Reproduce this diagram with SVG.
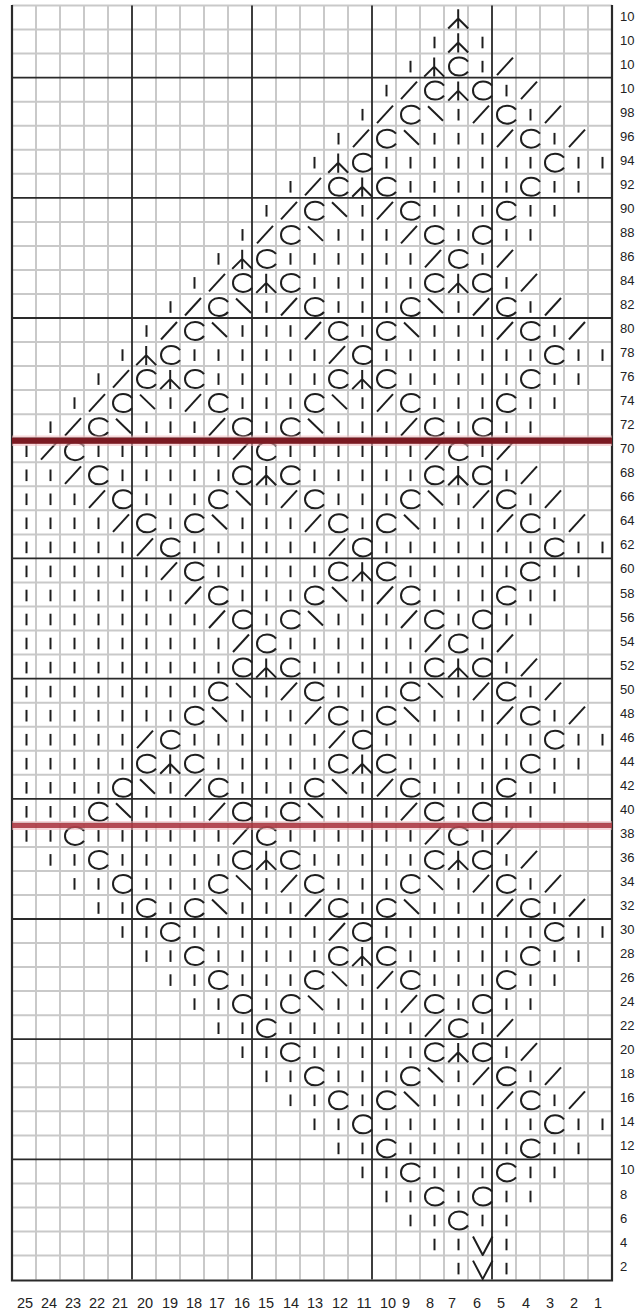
<svg xmlns="http://www.w3.org/2000/svg" width="640" height="1316" viewBox="0 0 640 1316">
<style>
.g{stroke:#c9c9c9;stroke-width:2;fill:none}
.t{stroke:#2a2a2a;stroke-width:1.8;fill:none}
.m{stroke:#1e1e1e;stroke-width:2;fill:none;stroke-linejoin:round}
.n{font-family:"Liberation Sans",Arial,sans-serif;font-size:13px;fill:#222}
.b{font-family:"Liberation Sans",Arial,sans-serif;font-size:14.5px;fill:#222;text-anchor:middle}
</style>
<defs>
<path id="k" class="m" d="M14.5 7.2V18.8"/>
<path id="s" class="m" d="M5 21.5L21 4"/>
<path id="b" class="m" d="M8 4.5L23 19"/>
<path id="c" class="m" d="M24 8C21.5 5 19 4 15 4C9 4 5 8 5 13C5 18 9 22 15 22C19 22 21.5 21 24 18"/>
<path id="a" class="m" d="M14.2 3.8V23M4.2 23L14.2 13L24.2 23"/>
<path id="v" class="m" d="M5 5L14.7 23.5L24.5 5"/>
</defs>
<rect width="640" height="1316" fill="#fff"/>
<g id="grid">
<path class="g" d="M36 5.5V1279.6M60 5.5V1279.6M84 5.5V1279.6M108 5.5V1279.6M156 5.5V1279.6M180 5.5V1279.6M204 5.5V1279.6M228 5.5V1279.6M276 5.5V1279.6M300 5.5V1279.6M324 5.5V1279.6M348 5.5V1279.6M396 5.5V1279.6M420 5.5V1279.6M444 5.5V1279.6M468 5.5V1279.6M516 5.5V1279.6M540 5.5V1279.6M564 5.5V1279.6M588 5.5V1279.6"/>
<path class="g" d="M12 5.5H612M12 29.5H612M12 53.6H612M12 101.7H612M12 125.7H612M12 149.7H612M12 173.8H612M12 221.9H612M12 245.9H612M12 269.9H612M12 294H612M12 342.1H612M12 366.1H612M12 390.1H612M12 414.2H612M12 462.3H612M12 486.3H612M12 510.3H612M12 534.4H612M12 582.5H612M12 606.5H612M12 630.5H612M12 654.6H612M12 702.7H612M12 726.7H612M12 750.7H612M12 774.8H612M12 822.9H612M12 846.9H612M12 870.9H612M12 895H612M12 943.1H612M12 967.1H612M12 991.1H612M12 1015.2H612M12 1063.3H612M12 1087.3H612M12 1111.3H612M12 1135.4H612M12 1183.5H612M12 1207.5H612M12 1231.5H612M12 1255.6H612"/>
<path class="t" d="M12 77.6H612M12 197.8H612M12 318H612M12 438.2H612M12 558.4H612M12 678.6H612M12 798.8H612M12 919H612M12 1039.2H612M12 1159.4H612"/>
<path class="t" d="M132 5.5V1279.6M252 5.5V1279.6M372 5.5V1279.6M492 5.5V1279.6"/>
<path class="t" style="stroke-width:2.2" d="M12 5V1280.5H612V5"/>
</g>
<g id="stitches">
<g transform="translate(0,5.5)"><use href="#a" x="444"/></g>
<g transform="translate(0,29.5)"><use href="#k" x="420"/><use href="#a" x="444"/><use href="#k" x="468"/></g>
<g transform="translate(0,53.6)"><use href="#k" x="396"/><use href="#a" x="420"/><use href="#c" x="444"/><use href="#k" x="468"/><use href="#s" x="492"/></g>
<g transform="translate(0,77.6)"><use href="#k" x="372"/><use href="#s" x="396"/><use href="#c" x="420"/><use href="#a" x="444"/><use href="#c" x="468"/><use href="#k" x="492"/><use href="#s" x="516"/></g>
<g transform="translate(0,101.7)"><use href="#k" x="348"/><use href="#s" x="372"/><use href="#c" x="396"/><use href="#b" x="420"/><use href="#k" x="444"/><use href="#s" x="468"/><use href="#c" x="492"/><use href="#k" x="516"/><use href="#s" x="540"/></g>
<g transform="translate(0,125.7)"><use href="#k" x="324"/><use href="#s" x="348"/><use href="#c" x="372"/><use href="#b" x="396"/><use href="#k" x="420"/><use href="#k" x="444"/><use href="#k" x="468"/><use href="#s" x="492"/><use href="#c" x="516"/><use href="#k" x="540"/><use href="#s" x="564"/></g>
<g transform="translate(0,149.7)"><use href="#k" x="300"/><use href="#a" x="324"/><use href="#c" x="348"/><use href="#k" x="372"/><use href="#k" x="396"/><use href="#k" x="420"/><use href="#k" x="444"/><use href="#k" x="468"/><use href="#k" x="492"/><use href="#k" x="516"/><use href="#c" x="540"/><use href="#k" x="564"/><use href="#k" x="588"/></g>
<g transform="translate(0,173.8)"><use href="#k" x="276"/><use href="#s" x="300"/><use href="#c" x="324"/><use href="#a" x="348"/><use href="#c" x="372"/><use href="#k" x="396"/><use href="#k" x="420"/><use href="#k" x="444"/><use href="#k" x="468"/><use href="#k" x="492"/><use href="#c" x="516"/><use href="#k" x="540"/><use href="#k" x="564"/></g>
<g transform="translate(0,197.8)"><use href="#k" x="252"/><use href="#s" x="276"/><use href="#c" x="300"/><use href="#b" x="324"/><use href="#k" x="348"/><use href="#s" x="372"/><use href="#c" x="396"/><use href="#k" x="420"/><use href="#k" x="444"/><use href="#k" x="468"/><use href="#c" x="492"/><use href="#k" x="516"/><use href="#k" x="540"/></g>
<g transform="translate(0,221.9)"><use href="#k" x="228"/><use href="#s" x="252"/><use href="#c" x="276"/><use href="#b" x="300"/><use href="#k" x="324"/><use href="#k" x="348"/><use href="#k" x="372"/><use href="#s" x="396"/><use href="#c" x="420"/><use href="#k" x="444"/><use href="#c" x="468"/><use href="#k" x="492"/><use href="#k" x="516"/></g>
<g transform="translate(0,245.9)"><use href="#k" x="204"/><use href="#a" x="228"/><use href="#c" x="252"/><use href="#k" x="276"/><use href="#k" x="300"/><use href="#k" x="324"/><use href="#k" x="348"/><use href="#k" x="372"/><use href="#k" x="396"/><use href="#s" x="420"/><use href="#c" x="444"/><use href="#k" x="468"/><use href="#s" x="492"/></g>
<g transform="translate(0,269.9)"><use href="#k" x="180"/><use href="#s" x="204"/><use href="#c" x="228"/><use href="#a" x="252"/><use href="#c" x="276"/><use href="#k" x="300"/><use href="#k" x="324"/><use href="#k" x="348"/><use href="#k" x="372"/><use href="#k" x="396"/><use href="#c" x="420"/><use href="#a" x="444"/><use href="#c" x="468"/><use href="#k" x="492"/><use href="#s" x="516"/></g>
<g transform="translate(0,294)"><use href="#k" x="156"/><use href="#s" x="180"/><use href="#c" x="204"/><use href="#b" x="228"/><use href="#k" x="252"/><use href="#s" x="276"/><use href="#c" x="300"/><use href="#k" x="324"/><use href="#k" x="348"/><use href="#k" x="372"/><use href="#c" x="396"/><use href="#b" x="420"/><use href="#k" x="444"/><use href="#s" x="468"/><use href="#c" x="492"/><use href="#k" x="516"/><use href="#s" x="540"/></g>
<g transform="translate(0,318)"><use href="#k" x="132"/><use href="#s" x="156"/><use href="#c" x="180"/><use href="#b" x="204"/><use href="#k" x="228"/><use href="#k" x="252"/><use href="#k" x="276"/><use href="#s" x="300"/><use href="#c" x="324"/><use href="#k" x="348"/><use href="#c" x="372"/><use href="#b" x="396"/><use href="#k" x="420"/><use href="#k" x="444"/><use href="#k" x="468"/><use href="#s" x="492"/><use href="#c" x="516"/><use href="#k" x="540"/><use href="#s" x="564"/></g>
<g transform="translate(0,342.1)"><use href="#k" x="108"/><use href="#a" x="132"/><use href="#c" x="156"/><use href="#k" x="180"/><use href="#k" x="204"/><use href="#k" x="228"/><use href="#k" x="252"/><use href="#k" x="276"/><use href="#k" x="300"/><use href="#s" x="324"/><use href="#c" x="348"/><use href="#k" x="372"/><use href="#k" x="396"/><use href="#k" x="420"/><use href="#k" x="444"/><use href="#k" x="468"/><use href="#k" x="492"/><use href="#k" x="516"/><use href="#c" x="540"/><use href="#k" x="564"/><use href="#k" x="588"/></g>
<g transform="translate(0,366.1)"><use href="#k" x="84"/><use href="#s" x="108"/><use href="#c" x="132"/><use href="#a" x="156"/><use href="#c" x="180"/><use href="#k" x="204"/><use href="#k" x="228"/><use href="#k" x="252"/><use href="#k" x="276"/><use href="#k" x="300"/><use href="#c" x="324"/><use href="#a" x="348"/><use href="#c" x="372"/><use href="#k" x="396"/><use href="#k" x="420"/><use href="#k" x="444"/><use href="#k" x="468"/><use href="#k" x="492"/><use href="#c" x="516"/><use href="#k" x="540"/><use href="#k" x="564"/></g>
<g transform="translate(0,390.1)"><use href="#k" x="60"/><use href="#s" x="84"/><use href="#c" x="108"/><use href="#b" x="132"/><use href="#k" x="156"/><use href="#s" x="180"/><use href="#c" x="204"/><use href="#k" x="228"/><use href="#k" x="252"/><use href="#k" x="276"/><use href="#c" x="300"/><use href="#b" x="324"/><use href="#k" x="348"/><use href="#s" x="372"/><use href="#c" x="396"/><use href="#k" x="420"/><use href="#k" x="444"/><use href="#k" x="468"/><use href="#c" x="492"/><use href="#k" x="516"/><use href="#k" x="540"/></g>
<g transform="translate(0,414.2)"><use href="#k" x="36"/><use href="#s" x="60"/><use href="#c" x="84"/><use href="#b" x="108"/><use href="#k" x="132"/><use href="#k" x="156"/><use href="#k" x="180"/><use href="#s" x="204"/><use href="#c" x="228"/><use href="#k" x="252"/><use href="#c" x="276"/><use href="#b" x="300"/><use href="#k" x="324"/><use href="#k" x="348"/><use href="#k" x="372"/><use href="#s" x="396"/><use href="#c" x="420"/><use href="#k" x="444"/><use href="#c" x="468"/><use href="#k" x="492"/><use href="#k" x="516"/></g>
<g transform="translate(0,438.2)"><use href="#k" x="12"/><use href="#s" x="36"/><use href="#c" x="60"/><use href="#k" x="84"/><use href="#k" x="108"/><use href="#k" x="132"/><use href="#k" x="156"/><use href="#k" x="180"/><use href="#k" x="204"/><use href="#s" x="228"/><use href="#c" x="252"/><use href="#k" x="276"/><use href="#k" x="300"/><use href="#k" x="324"/><use href="#k" x="348"/><use href="#k" x="372"/><use href="#k" x="396"/><use href="#s" x="420"/><use href="#c" x="444"/><use href="#k" x="468"/><use href="#s" x="492"/></g>
<g transform="translate(0,462.3)"><use href="#k" x="12"/><use href="#k" x="36"/><use href="#s" x="60"/><use href="#c" x="84"/><use href="#k" x="108"/><use href="#k" x="132"/><use href="#k" x="156"/><use href="#k" x="180"/><use href="#k" x="204"/><use href="#c" x="228"/><use href="#a" x="252"/><use href="#c" x="276"/><use href="#k" x="300"/><use href="#k" x="324"/><use href="#k" x="348"/><use href="#k" x="372"/><use href="#k" x="396"/><use href="#c" x="420"/><use href="#a" x="444"/><use href="#c" x="468"/><use href="#k" x="492"/><use href="#s" x="516"/></g>
<g transform="translate(0,486.3)"><use href="#k" x="12"/><use href="#k" x="36"/><use href="#k" x="60"/><use href="#s" x="84"/><use href="#c" x="108"/><use href="#k" x="132"/><use href="#k" x="156"/><use href="#k" x="180"/><use href="#c" x="204"/><use href="#b" x="228"/><use href="#k" x="252"/><use href="#s" x="276"/><use href="#c" x="300"/><use href="#k" x="324"/><use href="#k" x="348"/><use href="#k" x="372"/><use href="#c" x="396"/><use href="#b" x="420"/><use href="#k" x="444"/><use href="#s" x="468"/><use href="#c" x="492"/><use href="#k" x="516"/><use href="#s" x="540"/></g>
<g transform="translate(0,510.3)"><use href="#k" x="12"/><use href="#k" x="36"/><use href="#k" x="60"/><use href="#k" x="84"/><use href="#s" x="108"/><use href="#c" x="132"/><use href="#k" x="156"/><use href="#c" x="180"/><use href="#b" x="204"/><use href="#k" x="228"/><use href="#k" x="252"/><use href="#k" x="276"/><use href="#s" x="300"/><use href="#c" x="324"/><use href="#k" x="348"/><use href="#c" x="372"/><use href="#b" x="396"/><use href="#k" x="420"/><use href="#k" x="444"/><use href="#k" x="468"/><use href="#s" x="492"/><use href="#c" x="516"/><use href="#k" x="540"/><use href="#s" x="564"/></g>
<g transform="translate(0,534.4)"><use href="#k" x="12"/><use href="#k" x="36"/><use href="#k" x="60"/><use href="#k" x="84"/><use href="#k" x="108"/><use href="#s" x="132"/><use href="#c" x="156"/><use href="#k" x="180"/><use href="#k" x="204"/><use href="#k" x="228"/><use href="#k" x="252"/><use href="#k" x="276"/><use href="#k" x="300"/><use href="#s" x="324"/><use href="#c" x="348"/><use href="#k" x="372"/><use href="#k" x="396"/><use href="#k" x="420"/><use href="#k" x="444"/><use href="#k" x="468"/><use href="#k" x="492"/><use href="#k" x="516"/><use href="#c" x="540"/><use href="#k" x="564"/><use href="#k" x="588"/></g>
<g transform="translate(0,558.4)"><use href="#k" x="12"/><use href="#k" x="36"/><use href="#k" x="60"/><use href="#k" x="84"/><use href="#k" x="108"/><use href="#k" x="132"/><use href="#s" x="156"/><use href="#c" x="180"/><use href="#k" x="204"/><use href="#k" x="228"/><use href="#k" x="252"/><use href="#k" x="276"/><use href="#k" x="300"/><use href="#c" x="324"/><use href="#a" x="348"/><use href="#c" x="372"/><use href="#k" x="396"/><use href="#k" x="420"/><use href="#k" x="444"/><use href="#k" x="468"/><use href="#k" x="492"/><use href="#c" x="516"/><use href="#k" x="540"/><use href="#k" x="564"/></g>
<g transform="translate(0,582.5)"><use href="#k" x="12"/><use href="#k" x="36"/><use href="#k" x="60"/><use href="#k" x="84"/><use href="#k" x="108"/><use href="#k" x="132"/><use href="#k" x="156"/><use href="#s" x="180"/><use href="#c" x="204"/><use href="#k" x="228"/><use href="#k" x="252"/><use href="#k" x="276"/><use href="#c" x="300"/><use href="#b" x="324"/><use href="#k" x="348"/><use href="#s" x="372"/><use href="#c" x="396"/><use href="#k" x="420"/><use href="#k" x="444"/><use href="#k" x="468"/><use href="#c" x="492"/><use href="#k" x="516"/><use href="#k" x="540"/></g>
<g transform="translate(0,606.5)"><use href="#k" x="12"/><use href="#k" x="36"/><use href="#k" x="60"/><use href="#k" x="84"/><use href="#k" x="108"/><use href="#k" x="132"/><use href="#k" x="156"/><use href="#k" x="180"/><use href="#s" x="204"/><use href="#c" x="228"/><use href="#k" x="252"/><use href="#c" x="276"/><use href="#b" x="300"/><use href="#k" x="324"/><use href="#k" x="348"/><use href="#k" x="372"/><use href="#s" x="396"/><use href="#c" x="420"/><use href="#k" x="444"/><use href="#c" x="468"/><use href="#k" x="492"/><use href="#k" x="516"/></g>
<g transform="translate(0,630.5)"><use href="#k" x="12"/><use href="#k" x="36"/><use href="#k" x="60"/><use href="#k" x="84"/><use href="#k" x="108"/><use href="#k" x="132"/><use href="#k" x="156"/><use href="#k" x="180"/><use href="#k" x="204"/><use href="#s" x="228"/><use href="#c" x="252"/><use href="#k" x="276"/><use href="#k" x="300"/><use href="#k" x="324"/><use href="#k" x="348"/><use href="#k" x="372"/><use href="#k" x="396"/><use href="#s" x="420"/><use href="#c" x="444"/><use href="#k" x="468"/><use href="#s" x="492"/></g>
<g transform="translate(0,654.6)"><use href="#k" x="12"/><use href="#k" x="36"/><use href="#k" x="60"/><use href="#k" x="84"/><use href="#k" x="108"/><use href="#k" x="132"/><use href="#k" x="156"/><use href="#k" x="180"/><use href="#k" x="204"/><use href="#c" x="228"/><use href="#a" x="252"/><use href="#c" x="276"/><use href="#k" x="300"/><use href="#k" x="324"/><use href="#k" x="348"/><use href="#k" x="372"/><use href="#k" x="396"/><use href="#c" x="420"/><use href="#a" x="444"/><use href="#c" x="468"/><use href="#k" x="492"/><use href="#s" x="516"/></g>
<g transform="translate(0,678.6)"><use href="#k" x="12"/><use href="#k" x="36"/><use href="#k" x="60"/><use href="#k" x="84"/><use href="#k" x="108"/><use href="#k" x="132"/><use href="#k" x="156"/><use href="#k" x="180"/><use href="#c" x="204"/><use href="#b" x="228"/><use href="#k" x="252"/><use href="#s" x="276"/><use href="#c" x="300"/><use href="#k" x="324"/><use href="#k" x="348"/><use href="#k" x="372"/><use href="#c" x="396"/><use href="#b" x="420"/><use href="#k" x="444"/><use href="#s" x="468"/><use href="#c" x="492"/><use href="#k" x="516"/><use href="#s" x="540"/></g>
<g transform="translate(0,702.7)"><use href="#k" x="12"/><use href="#k" x="36"/><use href="#k" x="60"/><use href="#k" x="84"/><use href="#k" x="108"/><use href="#k" x="132"/><use href="#k" x="156"/><use href="#c" x="180"/><use href="#b" x="204"/><use href="#k" x="228"/><use href="#k" x="252"/><use href="#k" x="276"/><use href="#s" x="300"/><use href="#c" x="324"/><use href="#k" x="348"/><use href="#c" x="372"/><use href="#b" x="396"/><use href="#k" x="420"/><use href="#k" x="444"/><use href="#k" x="468"/><use href="#s" x="492"/><use href="#c" x="516"/><use href="#k" x="540"/><use href="#s" x="564"/></g>
<g transform="translate(0,726.7)"><use href="#k" x="12"/><use href="#k" x="36"/><use href="#k" x="60"/><use href="#k" x="84"/><use href="#k" x="108"/><use href="#s" x="132"/><use href="#c" x="156"/><use href="#k" x="180"/><use href="#k" x="204"/><use href="#k" x="228"/><use href="#k" x="252"/><use href="#k" x="276"/><use href="#k" x="300"/><use href="#s" x="324"/><use href="#c" x="348"/><use href="#k" x="372"/><use href="#k" x="396"/><use href="#k" x="420"/><use href="#k" x="444"/><use href="#k" x="468"/><use href="#k" x="492"/><use href="#k" x="516"/><use href="#c" x="540"/><use href="#k" x="564"/><use href="#k" x="588"/></g>
<g transform="translate(0,750.7)"><use href="#k" x="12"/><use href="#k" x="36"/><use href="#k" x="60"/><use href="#k" x="84"/><use href="#k" x="108"/><use href="#c" x="132"/><use href="#a" x="156"/><use href="#c" x="180"/><use href="#k" x="204"/><use href="#k" x="228"/><use href="#k" x="252"/><use href="#k" x="276"/><use href="#k" x="300"/><use href="#c" x="324"/><use href="#a" x="348"/><use href="#c" x="372"/><use href="#k" x="396"/><use href="#k" x="420"/><use href="#k" x="444"/><use href="#k" x="468"/><use href="#k" x="492"/><use href="#c" x="516"/><use href="#k" x="540"/><use href="#k" x="564"/></g>
<g transform="translate(0,774.8)"><use href="#k" x="12"/><use href="#k" x="36"/><use href="#k" x="60"/><use href="#k" x="84"/><use href="#c" x="108"/><use href="#b" x="132"/><use href="#k" x="156"/><use href="#s" x="180"/><use href="#c" x="204"/><use href="#k" x="228"/><use href="#k" x="252"/><use href="#k" x="276"/><use href="#c" x="300"/><use href="#b" x="324"/><use href="#k" x="348"/><use href="#s" x="372"/><use href="#c" x="396"/><use href="#k" x="420"/><use href="#k" x="444"/><use href="#k" x="468"/><use href="#c" x="492"/><use href="#k" x="516"/><use href="#k" x="540"/></g>
<g transform="translate(0,798.8)"><use href="#k" x="12"/><use href="#k" x="36"/><use href="#k" x="60"/><use href="#c" x="84"/><use href="#b" x="108"/><use href="#k" x="132"/><use href="#k" x="156"/><use href="#k" x="180"/><use href="#s" x="204"/><use href="#c" x="228"/><use href="#k" x="252"/><use href="#c" x="276"/><use href="#b" x="300"/><use href="#k" x="324"/><use href="#k" x="348"/><use href="#k" x="372"/><use href="#s" x="396"/><use href="#c" x="420"/><use href="#k" x="444"/><use href="#c" x="468"/><use href="#k" x="492"/><use href="#k" x="516"/></g>
<g transform="translate(0,822.9)"><use href="#k" x="12"/><use href="#k" x="36"/><use href="#c" x="60"/><use href="#k" x="84"/><use href="#k" x="108"/><use href="#k" x="132"/><use href="#k" x="156"/><use href="#k" x="180"/><use href="#k" x="204"/><use href="#s" x="228"/><use href="#c" x="252"/><use href="#k" x="276"/><use href="#k" x="300"/><use href="#k" x="324"/><use href="#k" x="348"/><use href="#k" x="372"/><use href="#k" x="396"/><use href="#s" x="420"/><use href="#c" x="444"/><use href="#k" x="468"/><use href="#s" x="492"/></g>
<g transform="translate(0,846.9)"><use href="#k" x="36"/><use href="#k" x="60"/><use href="#c" x="84"/><use href="#k" x="108"/><use href="#k" x="132"/><use href="#k" x="156"/><use href="#k" x="180"/><use href="#k" x="204"/><use href="#c" x="228"/><use href="#a" x="252"/><use href="#c" x="276"/><use href="#k" x="300"/><use href="#k" x="324"/><use href="#k" x="348"/><use href="#k" x="372"/><use href="#k" x="396"/><use href="#c" x="420"/><use href="#a" x="444"/><use href="#c" x="468"/><use href="#k" x="492"/><use href="#s" x="516"/></g>
<g transform="translate(0,870.9)"><use href="#k" x="60"/><use href="#k" x="84"/><use href="#c" x="108"/><use href="#k" x="132"/><use href="#k" x="156"/><use href="#k" x="180"/><use href="#c" x="204"/><use href="#b" x="228"/><use href="#k" x="252"/><use href="#s" x="276"/><use href="#c" x="300"/><use href="#k" x="324"/><use href="#k" x="348"/><use href="#k" x="372"/><use href="#c" x="396"/><use href="#b" x="420"/><use href="#k" x="444"/><use href="#s" x="468"/><use href="#c" x="492"/><use href="#k" x="516"/><use href="#s" x="540"/></g>
<g transform="translate(0,895)"><use href="#k" x="84"/><use href="#k" x="108"/><use href="#c" x="132"/><use href="#k" x="156"/><use href="#c" x="180"/><use href="#b" x="204"/><use href="#k" x="228"/><use href="#k" x="252"/><use href="#k" x="276"/><use href="#s" x="300"/><use href="#c" x="324"/><use href="#k" x="348"/><use href="#c" x="372"/><use href="#b" x="396"/><use href="#k" x="420"/><use href="#k" x="444"/><use href="#k" x="468"/><use href="#s" x="492"/><use href="#c" x="516"/><use href="#k" x="540"/><use href="#s" x="564"/></g>
<g transform="translate(0,919)"><use href="#k" x="108"/><use href="#k" x="132"/><use href="#c" x="156"/><use href="#k" x="180"/><use href="#k" x="204"/><use href="#k" x="228"/><use href="#k" x="252"/><use href="#k" x="276"/><use href="#k" x="300"/><use href="#s" x="324"/><use href="#c" x="348"/><use href="#k" x="372"/><use href="#k" x="396"/><use href="#k" x="420"/><use href="#k" x="444"/><use href="#k" x="468"/><use href="#k" x="492"/><use href="#k" x="516"/><use href="#c" x="540"/><use href="#k" x="564"/><use href="#k" x="588"/></g>
<g transform="translate(0,943.1)"><use href="#k" x="132"/><use href="#k" x="156"/><use href="#c" x="180"/><use href="#k" x="204"/><use href="#k" x="228"/><use href="#k" x="252"/><use href="#k" x="276"/><use href="#k" x="300"/><use href="#c" x="324"/><use href="#a" x="348"/><use href="#c" x="372"/><use href="#k" x="396"/><use href="#k" x="420"/><use href="#k" x="444"/><use href="#k" x="468"/><use href="#k" x="492"/><use href="#c" x="516"/><use href="#k" x="540"/><use href="#k" x="564"/></g>
<g transform="translate(0,967.1)"><use href="#k" x="156"/><use href="#k" x="180"/><use href="#c" x="204"/><use href="#k" x="228"/><use href="#k" x="252"/><use href="#k" x="276"/><use href="#c" x="300"/><use href="#b" x="324"/><use href="#k" x="348"/><use href="#s" x="372"/><use href="#c" x="396"/><use href="#k" x="420"/><use href="#k" x="444"/><use href="#k" x="468"/><use href="#c" x="492"/><use href="#k" x="516"/><use href="#k" x="540"/></g>
<g transform="translate(0,991.1)"><use href="#k" x="180"/><use href="#k" x="204"/><use href="#c" x="228"/><use href="#k" x="252"/><use href="#c" x="276"/><use href="#b" x="300"/><use href="#k" x="324"/><use href="#k" x="348"/><use href="#k" x="372"/><use href="#s" x="396"/><use href="#c" x="420"/><use href="#k" x="444"/><use href="#c" x="468"/><use href="#k" x="492"/><use href="#k" x="516"/></g>
<g transform="translate(0,1015.2)"><use href="#k" x="204"/><use href="#k" x="228"/><use href="#c" x="252"/><use href="#k" x="276"/><use href="#k" x="300"/><use href="#k" x="324"/><use href="#k" x="348"/><use href="#k" x="372"/><use href="#k" x="396"/><use href="#s" x="420"/><use href="#c" x="444"/><use href="#k" x="468"/><use href="#s" x="492"/></g>
<g transform="translate(0,1039.2)"><use href="#k" x="228"/><use href="#k" x="252"/><use href="#c" x="276"/><use href="#k" x="300"/><use href="#k" x="324"/><use href="#k" x="348"/><use href="#k" x="372"/><use href="#k" x="396"/><use href="#c" x="420"/><use href="#a" x="444"/><use href="#c" x="468"/><use href="#k" x="492"/><use href="#s" x="516"/></g>
<g transform="translate(0,1063.3)"><use href="#k" x="252"/><use href="#k" x="276"/><use href="#c" x="300"/><use href="#k" x="324"/><use href="#k" x="348"/><use href="#k" x="372"/><use href="#c" x="396"/><use href="#b" x="420"/><use href="#k" x="444"/><use href="#s" x="468"/><use href="#c" x="492"/><use href="#k" x="516"/><use href="#s" x="540"/></g>
<g transform="translate(0,1087.3)"><use href="#k" x="276"/><use href="#k" x="300"/><use href="#c" x="324"/><use href="#k" x="348"/><use href="#c" x="372"/><use href="#b" x="396"/><use href="#k" x="420"/><use href="#k" x="444"/><use href="#k" x="468"/><use href="#s" x="492"/><use href="#c" x="516"/><use href="#k" x="540"/><use href="#s" x="564"/></g>
<g transform="translate(0,1111.3)"><use href="#k" x="300"/><use href="#k" x="324"/><use href="#c" x="348"/><use href="#k" x="372"/><use href="#k" x="396"/><use href="#k" x="420"/><use href="#k" x="444"/><use href="#k" x="468"/><use href="#k" x="492"/><use href="#k" x="516"/><use href="#c" x="540"/><use href="#k" x="564"/><use href="#k" x="588"/></g>
<g transform="translate(0,1135.4)"><use href="#k" x="324"/><use href="#k" x="348"/><use href="#c" x="372"/><use href="#k" x="396"/><use href="#k" x="420"/><use href="#k" x="444"/><use href="#k" x="468"/><use href="#k" x="492"/><use href="#c" x="516"/><use href="#k" x="540"/><use href="#k" x="564"/></g>
<g transform="translate(0,1159.4)"><use href="#k" x="348"/><use href="#k" x="372"/><use href="#c" x="396"/><use href="#k" x="420"/><use href="#k" x="444"/><use href="#k" x="468"/><use href="#c" x="492"/><use href="#k" x="516"/><use href="#k" x="540"/></g>
<g transform="translate(0,1183.5)"><use href="#k" x="372"/><use href="#k" x="396"/><use href="#c" x="420"/><use href="#k" x="444"/><use href="#c" x="468"/><use href="#k" x="492"/><use href="#k" x="516"/></g>
<g transform="translate(0,1207.5)"><use href="#k" x="396"/><use href="#k" x="420"/><use href="#c" x="444"/><use href="#k" x="468"/><use href="#k" x="492"/></g>
<g transform="translate(0,1231.5)"><use href="#k" x="420"/><use href="#k" x="444"/><use href="#v" x="468"/><use href="#k" x="492"/></g>
<g transform="translate(0,1255.6)"><use href="#k" x="444"/><use href="#v" x="468"/><use href="#k" x="492"/></g>
</g>
<g id="red-lines">
<rect x="12" y="435.5" width="600" height="10.5" fill="#f4b8bc" opacity=".55"/>
<rect x="12" y="437.8" width="600" height="6" fill="#7b1a22"/>
<rect x="12" y="821" width="600" height="9" fill="#f0b0b4" opacity=".5"/>
<rect x="12" y="823" width="600" height="5" fill="#a8323c" opacity=".85"/>
</g>
<g id="row-numbers" class="n">
<text x="620" y="20.5">10</text><text x="620" y="44.5">10</text><text x="620" y="68.6">10</text><text x="620" y="92.6">10</text>
<text x="620" y="116.7">98</text><text x="620" y="140.7">96</text><text x="620" y="164.7">94</text><text x="620" y="188.8">92</text>
<text x="620" y="212.8">90</text><text x="620" y="236.9">88</text><text x="620" y="260.9">86</text><text x="620" y="284.9">84</text>
<text x="620" y="309">82</text><text x="620" y="333">80</text><text x="620" y="357.1">78</text><text x="620" y="381.1">76</text>
<text x="620" y="405.1">74</text><text x="620" y="429.2">72</text><text x="620" y="453.2">70</text><text x="620" y="477.3">68</text>
<text x="620" y="501.3">66</text><text x="620" y="525.3">64</text><text x="620" y="549.4">62</text><text x="620" y="573.4">60</text>
<text x="620" y="597.5">58</text><text x="620" y="621.5">56</text><text x="620" y="645.5">54</text><text x="620" y="669.6">52</text>
<text x="620" y="693.6">50</text><text x="620" y="717.7">48</text><text x="620" y="741.7">46</text><text x="620" y="765.7">44</text>
<text x="620" y="789.8">42</text><text x="620" y="813.8">40</text><text x="620" y="837.9">38</text><text x="620" y="861.9">36</text>
<text x="620" y="885.9">34</text><text x="620" y="910">32</text><text x="620" y="934">30</text><text x="620" y="958.1">28</text>
<text x="620" y="982.1">26</text><text x="620" y="1006.1">24</text><text x="620" y="1030.2">22</text><text x="620" y="1054.2">20</text>
<text x="620" y="1078.3">18</text><text x="620" y="1102.3">16</text><text x="620" y="1126.3">14</text><text x="620" y="1150.4">12</text>
<text x="620" y="1174.4">10</text><text x="620" y="1198.5">8</text><text x="620" y="1222.5">6</text><text x="620" y="1246.5">4</text><text x="620" y="1270.6">2</text>
</g>
<g id="column-numbers" class="b">
<text x="25" y="1308">25</text><text x="49" y="1308">24</text><text x="73" y="1308">23</text><text x="97" y="1308">22</text><text x="120" y="1308">21</text>
<text x="145" y="1308">20</text><text x="170" y="1308">19</text><text x="194" y="1308">18</text><text x="217" y="1308">17</text><text x="242" y="1308">16</text>
<text x="266" y="1308">15</text><text x="291" y="1308">14</text><text x="315" y="1308">13</text><text x="340" y="1308">12</text><text x="364" y="1308">11</text>
<text x="388" y="1308">10</text><text x="406" y="1308">9</text><text x="430" y="1308">8</text><text x="452" y="1308">7</text><text x="477" y="1308">6</text>
<text x="501" y="1308">5</text><text x="526" y="1308">4</text><text x="550" y="1308">3</text><text x="574" y="1308">2</text><text x="598" y="1308">1</text>
</g>
</svg>
